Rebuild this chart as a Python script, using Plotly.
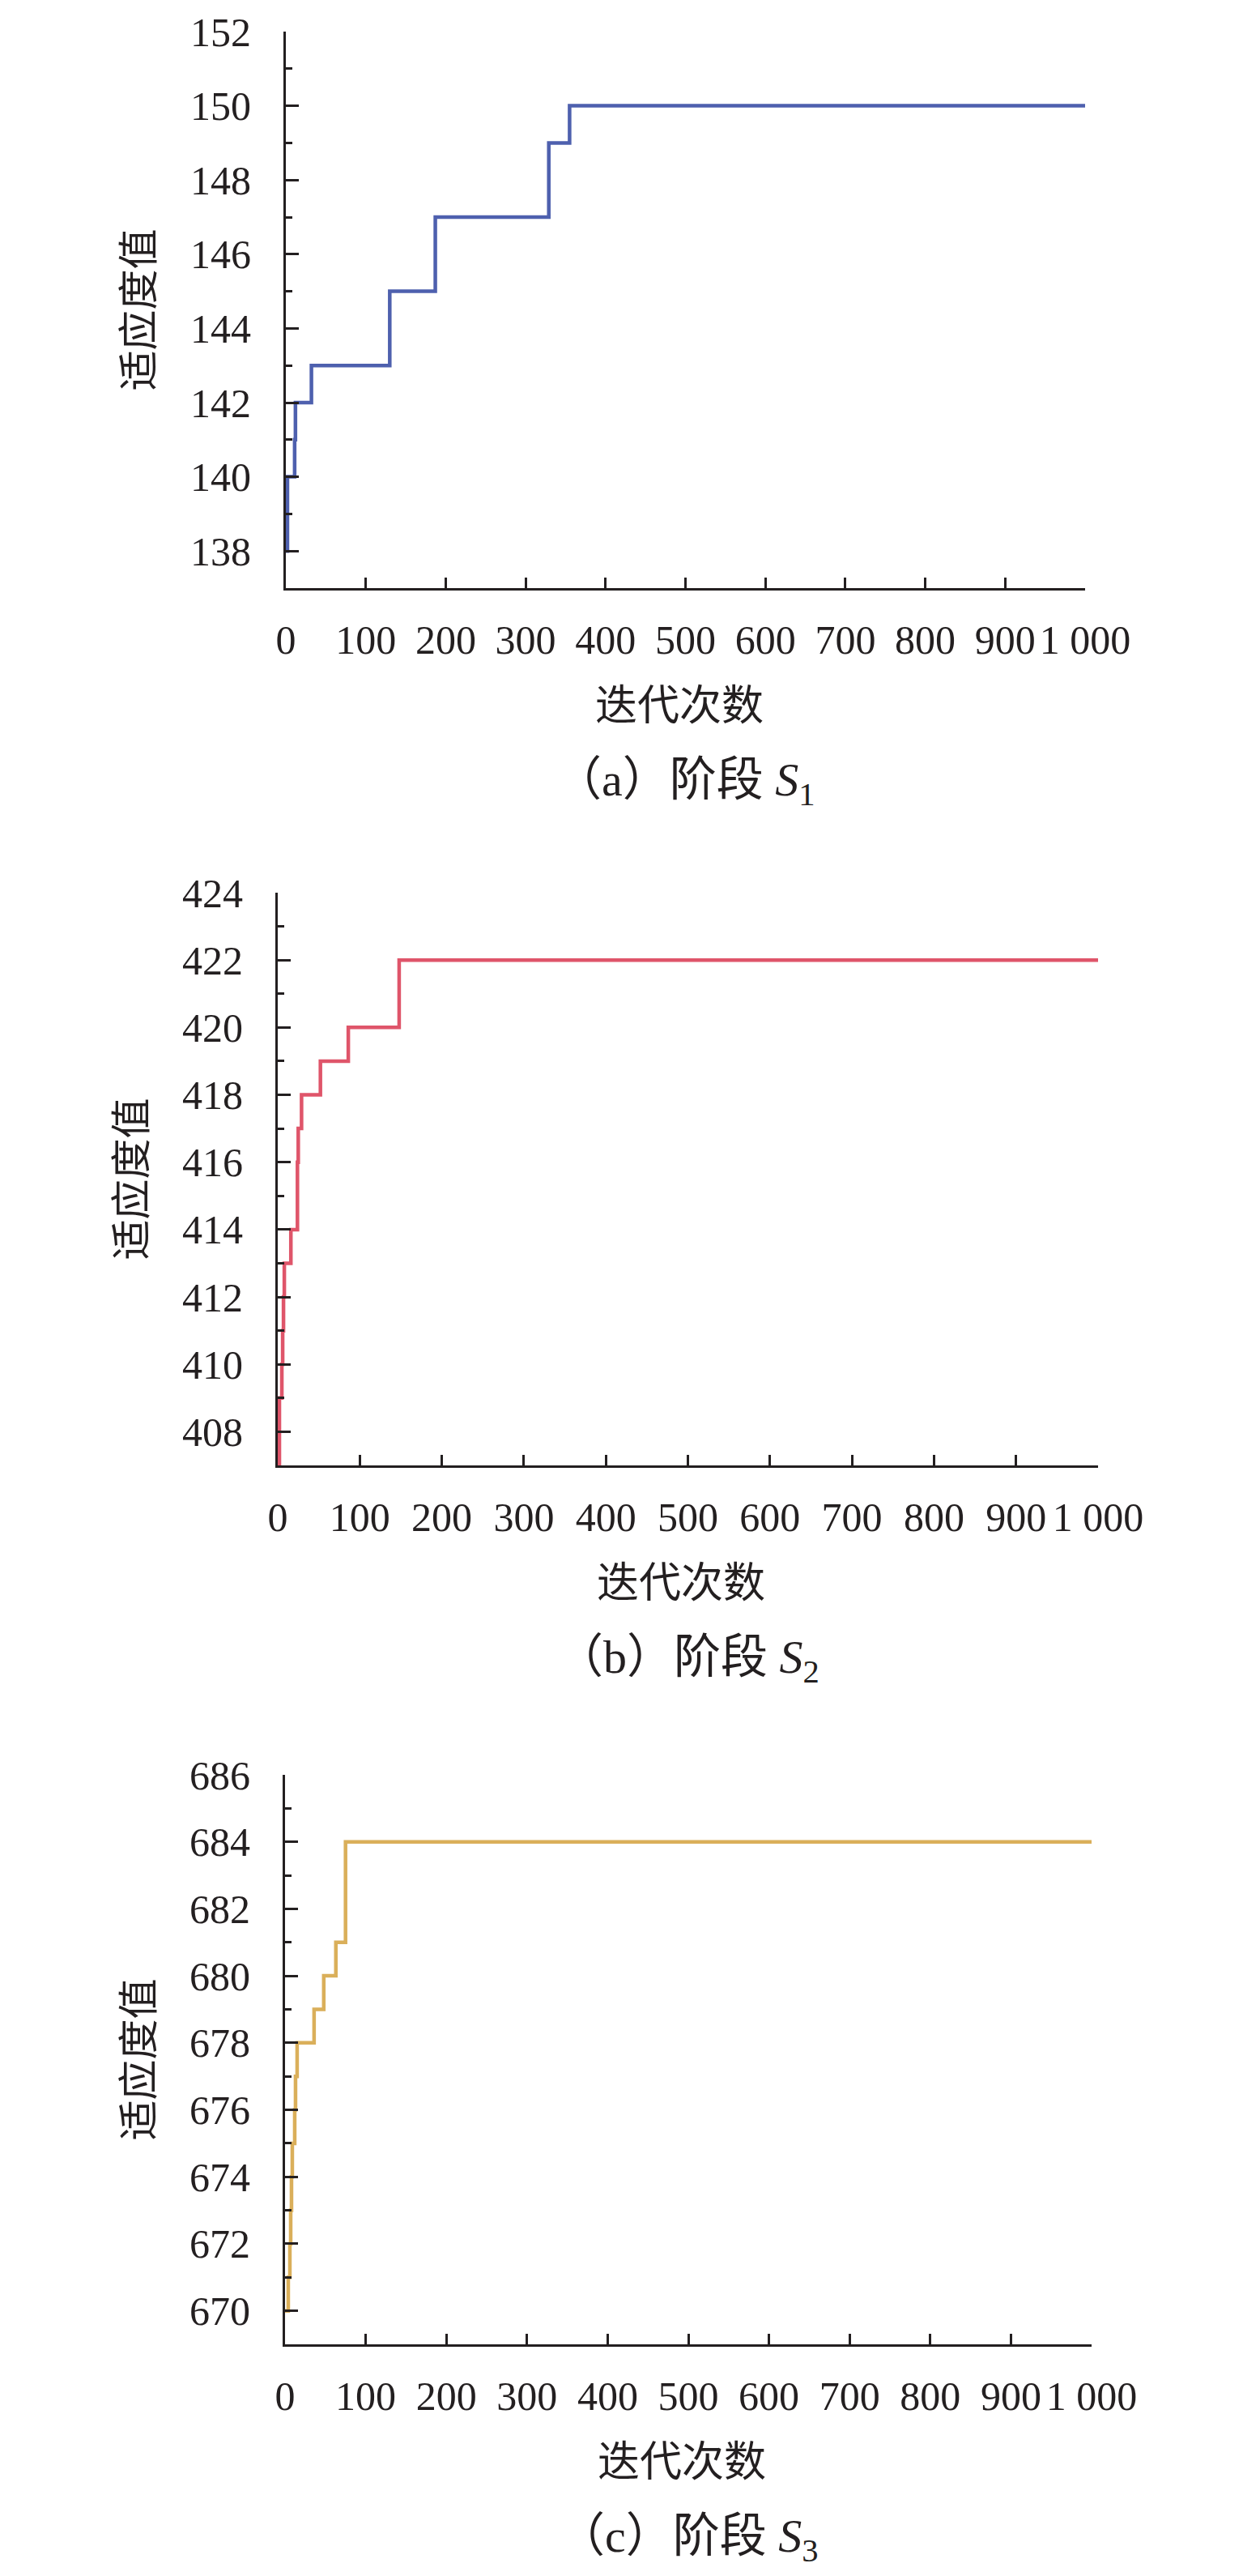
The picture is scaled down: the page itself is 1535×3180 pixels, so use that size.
import plotly.graph_objects as go

W, H = 1535, 3180

# ---- data ----
iter_s1 = [0, 2, 11, 12, 32, 130, 187, 329, 355, 1000]
fit_s1 = [138, 140, 141, 142, 143, 145, 147, 149, 150, 150]

iter_s2 = [0, 2, 5, 6, 7, 8, 16, 24, 25, 29, 52, 86, 148, 1000]
fit_s2 = [407, 409, 410, 411, 412, 413, 414, 416, 417, 418, 419, 420, 422, 422]

iter_s3 = [0, 4, 6, 7, 8, 9, 12, 13, 15, 36, 48, 63, 75, 1000]
fit_s3 = [670, 671, 672, 673, 674, 675, 676, 677, 678, 679, 680, 681, 684, 684]

x_tickvals = [0, 100, 200, 300, 400, 500, 600, 700, 800, 900, 1000]
x_ticktext = ["0", "100", "200", "300", "400", "500", "600", "700", "800", "900", "1 000"]

y1_ticks = [138, 140, 142, 144, 146, 148, 150, 152]
y2_ticks = [408, 410, 412, 414, 416, 418, 420, 422, 424]
y3_ticks = [670, 672, 674, 676, 678, 680, 682, 684, 686]

x_title = "迭代次数"
y_title = "适应度值"
captions = ["（a）阶段 <i>S</i><sub>1</sub>",
            "（b）阶段 <i>S</i><sub>2</sub>",
            "（c）阶段 <i>S</i><sub>3</sub>"]

colors = ["#4E60AE", "#DF556A", "#DAAF5A"]

panels = [
    dict(x=iter_s1, y=fit_s1, yt=y1_ticks, yr=[137, 152], xpx=(345, 1332), ypx=(31, 718)),
    dict(x=iter_s2, y=fit_s2, yt=y2_ticks, yr=[407, 424], xpx=(335, 1348), ypx=(1094, 1801)),
    dict(x=iter_s3, y=fit_s3, yt=y3_ticks, yr=[669, 686], xpx=(344, 1340), ypx=(2183, 2886)),
]

SERIF = "Liberation Serif, Times New Roman, Noto Sans CJK SC, serif"
CJK = "Noto Sans CJK SC, Liberation Serif, sans-serif"
INK = "#231F20"

fig = go.Figure()
annotations = []

for i, p in enumerate(panels):
    n = "" if i == 0 else str(i + 1)
    xa, ya = "x" + n, "y" + n
    fig.add_trace(go.Scatter(
        x=p["x"], y=p["y"], mode="lines", line=dict(color=colors[i], width=4.5, shape="hv"),
        xaxis=xa, yaxis=ya, showlegend=False, hoverinfo="skip", cliponaxis=False))
    x0, x1 = p["xpx"]
    y0, y1 = p["ypx"]
    fig.update_layout(**{
        "xaxis" + n: dict(
            domain=[x0 / W, x1 / W], anchor=ya, range=[0, 1000], automargin=False,
            tickmode="array", tickvals=x_tickvals, ticktext=x_ticktext, tickangle=0,
            ticks="inside", ticklen=13, tickwidth=3, tickcolor=INK,
            showline=True, linecolor=INK, linewidth=3, showgrid=False, zeroline=False,
            tickfont=dict(family=SERIF, size=50, color=INK), ticklabelstandoff=18,
            ticklabeloverflow="allow",
        ),
        "yaxis" + n: dict(
            domain=[1 - y1 / H, 1 - y0 / H], anchor=xa, range=p["yr"], automargin=False,
            tickmode="array", tickvals=p["yt"],
            ticks="inside", ticklen=16, tickwidth=3, tickcolor=INK,
            minor=dict(ticks="inside", ticklen=8, tickwidth=3, tickcolor=INK, dtick=1,
                       tick0=p["yr"][0], showgrid=False),
            showline=True, linecolor=INK, linewidth=3, showgrid=False, zeroline=False,
            tickfont=dict(family=SERIF, size=50, color=INK), ticklabelstandoff=30,
            ticklabeloverflow="allow",
        ),
    })
    cx = (x0 + x1) / 2
    annotations.append(dict(
        text=x_title, x=(cx - 8) / W, y=1 - (y1 + 140) / H, xref="paper", yref="paper",
        showarrow=False, xanchor="center", yanchor="middle",
        font=dict(family=CJK, size=52, color=INK)))
    annotations.append(dict(
        text=captions[i], x=cx / W, y=1 - (y1 + 240) / H, xref="paper", yref="paper",
        showarrow=False, xanchor="center", yanchor="middle",
        font=dict(family="Liberation Serif, Noto Sans CJK SC, serif", size=58, color=INK)))
    annotations.append(dict(
        text=y_title, x=(x0 - 186) / W, y=1 - ((y0 + y1) / 2) / H, xref="paper", yref="paper",
        showarrow=False, xanchor="center", yanchor="middle", textangle=-90,
        font=dict(family=CJK, size=50, color=INK)))

fig.update_layout(
    template="none",
    width=W, height=H, margin=dict(l=0, r=0, t=0, b=0, autoexpand=False),
    paper_bgcolor="white", plot_bgcolor="white",
    annotations=annotations,
)

fig.write_html("out.html")
